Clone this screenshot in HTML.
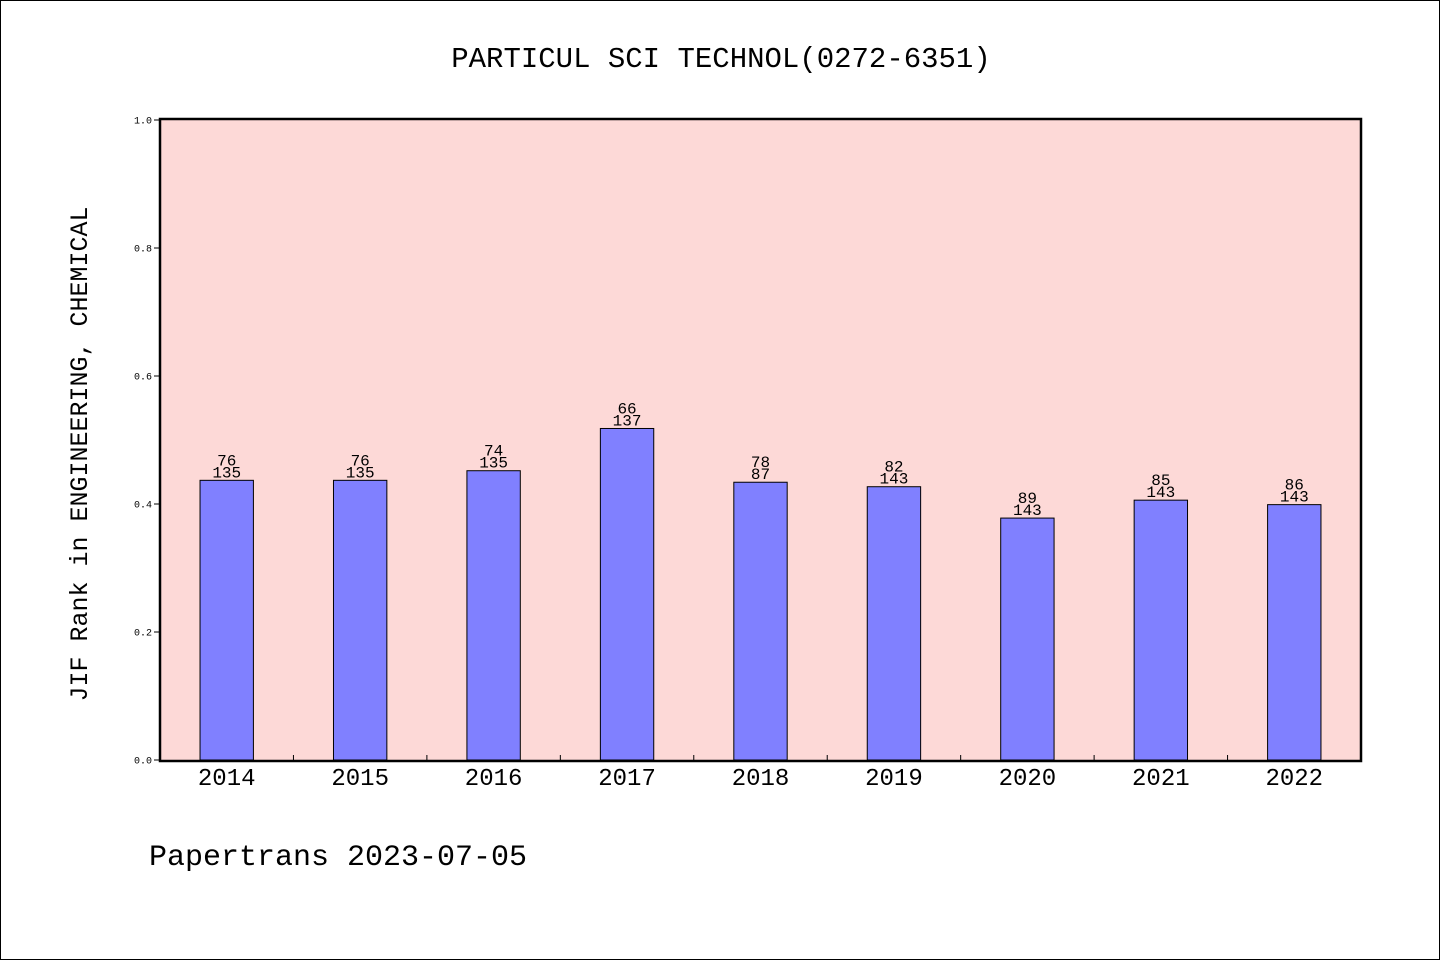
<!DOCTYPE html>
<html><head><meta charset="utf-8">
<style>
html,body{margin:0;padding:0;background:#fff;}
#wrap{position:relative;width:1438px;height:958px;border:1px solid #000;overflow:hidden;}
svg text{font-family:"Liberation Mono","WenQuanYi Zen Hei",monospace;fill:#000;}
</style></head>
<body>
<div id="wrap">
<svg id="chart" width="1438" height="958">
<text x="720" y="66" text-anchor="middle" font-size="29">PARTICUL SCI TECHNOL(0272-6351)</text>
<rect x="159" y="118" width="1201" height="642" fill="#fdd9d7"/>
<g id="bars"></g>
<rect x="159" y="118" width="1201" height="642" fill="none" stroke="#000" stroke-width="2.5"/>
<g id="axes"></g>
<text transform="translate(86,453) rotate(-90)" text-anchor="middle" font-size="25">JIF Rank in ENGINEERING, CHEMICAL</text>
<text x="148" y="864" font-size="30">Papertrans 2023-07-05</text>
</svg>
</div>
<script>
const categories = ["2014","2015","2016","2017","2018","2019","2020","2021","2022"];
const values = [0.437,0.437,0.452,0.518,0.434,0.427,0.378,0.406,0.399];
const ranks = ["76","76","74","66","78","82","89","85","86"];
const totals = ["135","135","135","137","87","143","143","143","143"];
const yTicks = ["0.0","0.2","0.4","0.6","0.8","1.0"];

const NS="http://www.w3.org/2000/svg";
const X0=159,X1=1360,Y0=759,Y1=119;
const band=(X1-X0)/categories.length;
function xc(i){return X0+band*(i+0.5);}
function y(v){return Y0-(Y1-Y0)*-v;}
function yy(v){return Y0-(Y0-Y1)*v;}
function mk(tag,attrs,parent){const e=document.createElementNS(NS,tag);for(const k in attrs)e.setAttribute(k,attrs[k]);parent.appendChild(e);return e;}
const bars=document.getElementById('bars'),axes=document.getElementById('axes');
const bw=band*0.4;
categories.forEach((c,i)=>{
  const top=yy(values[i]);
  const r=mk('rect',{x:xc(i)-bw/2,y:top,width:bw,height:Y0-top,fill:'#8080ff',stroke:'#000','stroke-width':1},bars);
  
  
  const t1=mk('text',{x:xc(i),y:top-15,'text-anchor':'middle','font-size':16},bars);
  t1.textContent=ranks[i];
  
  
  const t2=mk('text',{x:xc(i),y:top-3,'text-anchor':'middle','font-size':16},bars);
  t2.textContent=totals[i];
  
  
  const xl=mk('text',{x:xc(i),y:784,'text-anchor':'middle','font-size':24},axes);
  xl.textContent=c;
  
  
  if(i>0){
    const tk=mk('line',{x1:X0+band*i,x2:X0+band*i,y1:Y0,y2:Y0-5,stroke:'#000','stroke-width':1},axes);
    
    
  }
});
yTicks.forEach((t,i)=>{
  const v=parseFloat(t),py=yy(v);
  const tk=mk('line',{x1:X0-6,x2:X0,y1:py,y2:py,stroke:'#000','stroke-width':1},axes);
  
  
  const tl=mk('text',{x:X0-8,y:py+3.5,'text-anchor':'end','font-size':10},axes);
  tl.textContent=t;
  
  
});
</script>
</body></html>
